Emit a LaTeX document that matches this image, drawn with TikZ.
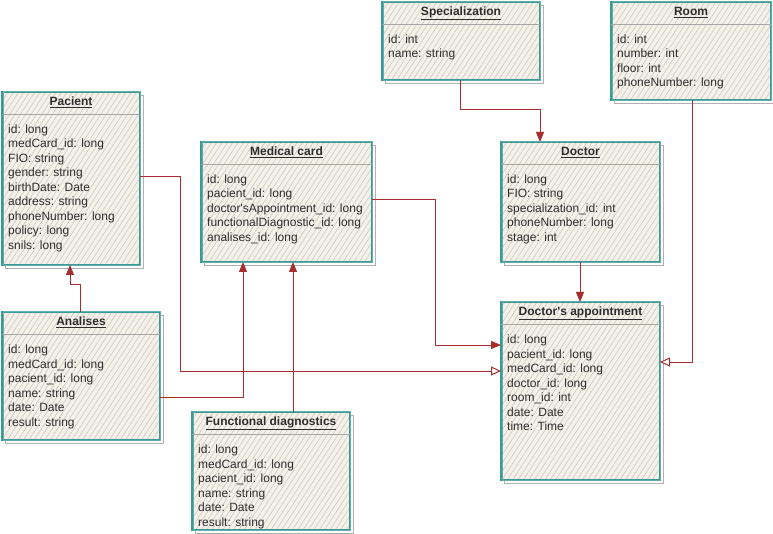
\documentclass[tikz,border=0pt]{standalone}
\usepackage{fontspec}
\setmainfont{Liberation Sans}
\usetikzlibrary{calc,arrows.meta,patterns.meta}
\definecolor{tealc}{HTML}{3A9A95}
\definecolor{hatchc}{HTML}{CFC5B6}
\definecolor{fillc}{HTML}{F4F1EB}
\definecolor{connred}{HTML}{A82E2E}
\definecolor{txtc}{HTML}{2E2E2E}
\definecolor{shadc}{HTML}{B0B0B0}
\tikzset{
  tblbox/.style={draw=tealc, line width=1.1pt, inner sep=0pt, outer sep=0pt,
    preaction={fill=fillc},
    pattern={Lines[angle=57,distance=4.5pt,line width=0.55pt]}, pattern color=hatchc},
  tblshadow/.style={draw=shadc, line width=0.9pt},
  tblsketch/.style={draw=tealc!80, line width=0.5pt},
  sepline/.style={draw=gray!70, line width=0.6pt},
  titletext/.style={font=\fontsize{12}{14}\selectfont\bfseries, text=txtc, inner sep=0pt},
  fieldtext/.style={font=\fontsize{12}{14}\selectfont, text=txtc, inner sep=0pt},
  link/.style={draw=connred, line width=1pt},
  arr/.style={-{Triangle[length=10pt,width=8pt]}},
  oarr/.style={-{Triangle[open,length=10pt,width=9pt,fill=white]}},
}
% #1 name, #2 x, #3 y, #4 w, #5 h, #6 title, #7 fields
\newcommand{\umltab}[7]{%
  \draw[tblshadow] (#2+3,#3+3) rectangle ++(#4,#5);
  \node[tblbox, minimum width=#4pt, minimum height=#5pt, anchor=north west] (#1) at (#2,#3) {};
  \draw[tblsketch] (#2+1.5,#3-1) rectangle ++(#4-1,#5+1.5);
  \draw[sepline] ($(#1.north west)+(0,22)$) -- ($(#1.north east)+(0,22)$);
  \node[titletext, anchor=base] (#1-t) at ($(#1.north)+(0,13.5)$) {\underline{#6}};
  \foreach \f [count=\i] in {#7} {
    \node[fieldtext, anchor=base west] (#1-f\i) at ($(#1.north west)+(6,{41.5+14.5*(\i-1)})$) {\f};
  }
}
\begin{document}
\begin{tikzpicture}[x=1pt,y=-1pt]
\useasboundingbox (0,0) rectangle (773,534);

\umltab{pac}{2}{92}{138}{173}{Pacient}{id: long, medCard\_id: long, FIO: string, gender: string, birthDate: Date, address: string, phoneNumber: long, policy: long, snils: long}
\umltab{mc}{201}{142}{171}{120}{Medical card}{id: long, pacient\_id: long, doctor\textquotesingle sAppointment\_id: long, functionalDiagnostic\_id: long, analises\_id: long}
\umltab{spec}{382}{2}{158}{78}{Specialization}{id: int, name: string}
\umltab{room}{611}{2}{160}{98}{Room}{id: int, number: int, floor: int, phoneNumber: long}
\umltab{doc}{501}{142}{159}{120}{Doctor}{id: long, FIO: string, specialization\_id: int, phoneNumber: long, stage: int}
\umltab{app}{501}{302}{159}{178}{Doctor\textquotesingle s appointment}{id: long, pacient\_id: long, medCard\_id: long, doctor\_id: long, room\_id: int, date: Date, time: Time}
\umltab{ana}{2}{312}{158}{128}{Analises}{id: long, medCard\_id: long, pacient\_id: long, name: string, date: Date, result: string}
\umltab{fd}{192}{412}{158}{118}{Functional diagnostics}{id: long, medCard\_id: long, pacient\_id: long, name: string, date: Date, result: string}

% Pacient -> Doctor's appointment
\draw[link, oarr] (pac.east |- 0,177) -- (180,177) -- (180,371) -- (app.west |- 0,371);
% Analises -> Medical card
\draw[link, arr] (ana.east |- 0,397) -- (243,397) -- (mc.south -| 243,0);
% Analises -> Pacient
\draw[link, arr] (ana.north -| 80,0) -- (80,285) -- (70,285) -- (pac.south -| 70,0);
% Functional diagnostics -> Medical card
\draw[link, arr] (fd.north -| 293,0) -- (mc.south -| 293,0);
% Medical card -> Doctor's appointment
\draw[link, arr] (mc.east |- 0,200) -- (435,200) -- (435,345) -- (app.west |- 0,345);
% Specialization -> Doctor
\draw[link, arr] (spec.south -| 460,0) -- (460,110) -- (540,110) -- (doc.north -| 540,0);
% Doctor -> Doctor's appointment
\draw[link, arr] (doc.south -| 580,0) -- (app.north -| 580,0);
% Room -> Doctor's appointment
\draw[link, oarr] (room.south -| 692,0) -- (692,362) -- (app.east |- 0,362);
\end{tikzpicture}
\end{document}
